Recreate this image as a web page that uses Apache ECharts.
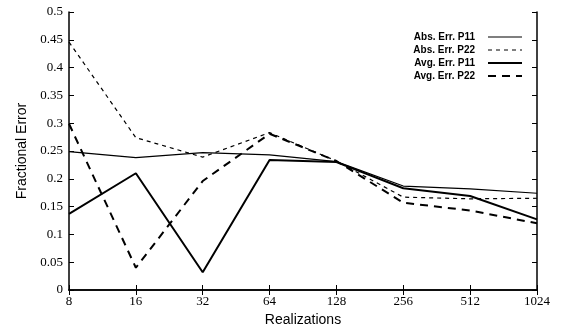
<!DOCTYPE html>
<html>
<head>
<meta charset="utf-8">
<script src="https://cdn.jsdelivr.net/npm/echarts@6/dist/echarts.min.js"></script>
<style>
  html, body { margin: 0; padding: 0; background: #fff; }
  #chart { width: 562px; height: 332px; }
</style>
</head>
<body>
<div id="chart"></div>
<script>
// data
var realizations = ['8', '16', '32', '64', '128', '256', '512', '1024'];
var absErrP11 = [0.249, 0.238, 0.247, 0.243, 0.231, 0.187, 0.182, 0.174];
var absErrP22 = [0.446, 0.274, 0.239, 0.283, 0.232, 0.167, 0.164, 0.165];
var avgErrP11 = [0.137, 0.210, 0.032, 0.234, 0.230, 0.183, 0.169, 0.127];
var avgErrP22 = [0.299, 0.040, 0.196, 0.281, 0.232, 0.157, 0.143, 0.120];

var chart = echarts.init(document.getElementById('chart'));

var serif = "'Liberation Serif', 'DejaVu Serif', serif";
var sans = "'Liberation Sans', Arial, sans-serif";

var styles = {
  'Abs. Err. P11': { width: 1.2, type: 'solid' },
  'Abs. Err. P22': { width: 1.2, type: [4, 4] },
  'Avg. Err. P11': { width: 2, type: 'solid' },
  'Avg. Err. P22': { width: 2, type: [8, 6] }
};

function line(name, data) {
  return {
    name: name,
    type: 'line',
    data: data,
    symbol: 'none',
    xAxisIndex: 0,
    yAxisIndex: 0,
    lineStyle: { color: '#000', width: styles[name].width, type: styles[name].type },
    itemStyle: { color: '#000' }
  };
}

chart.setOption({
  animation: false,
  backgroundColor: '#fff',
  grid: { left: 69, right: 25, top: 12, bottom: 37 },
  legend: {
    orient: 'vertical',
    right: 34,
    top: 27,
    align: 'right',
    itemWidth: 34,
    itemHeight: 10,
    itemGap: 3,
    itemStyle: { opacity: 0 },
    textStyle: { fontFamily: sans, fontSize: 10, fontWeight: 'bold', color: '#000', padding: [0, 8, 0, 0] },
    data: Object.keys(styles).map(function (n) {
      return {
        name: n,
        lineStyle: { color: '#000', width: styles[n].width, type: styles[n].type }
      };
    })
  },
  xAxis: [
    {
      type: 'category',
      data: realizations,
      boundaryGap: false,
      name: 'Realizations',
      nameLocation: 'middle',
      nameGap: 23,
      nameTextStyle: { fontFamily: sans, fontSize: 14, color: '#000' },
      axisLine: { lineStyle: { color: '#000', width: 1.5 } },
      axisTick: { inside: true, length: 5, lineStyle: { color: '#000' } },
      axisLabel: { fontFamily: serif, fontSize: 13, color: '#000', margin: 5 },
      splitLine: { show: false }
    },
    {
      type: 'category',
      data: realizations,
      boundaryGap: false,
      position: 'top',
      axisLine: { lineStyle: { color: '#000', width: 1.5 } },
      axisTick: { inside: true, length: 5, lineStyle: { color: '#000' } },
      axisLabel: { show: false },
      splitLine: { show: false }
    }
  ],
  yAxis: [
    {
      type: 'value',
      min: 0,
      max: 0.5,
      interval: 0.05,
      name: 'Fractional Error',
      nameLocation: 'middle',
      nameGap: 38,
      nameTextStyle: { fontFamily: sans, fontSize: 14, color: '#000' },
      axisLine: { show: true, lineStyle: { color: '#000', width: 1.5 } },
      axisTick: { show: true, inside: true, length: 5, lineStyle: { color: '#000' } },
      axisLabel: { fontFamily: serif, fontSize: 13, color: '#000', margin: 6 },
      splitLine: { show: false }
    },
    {
      type: 'value',
      min: 0,
      max: 0.5,
      interval: 0.05,
      position: 'right',
      axisLine: { show: true, lineStyle: { color: '#000', width: 1.5 } },
      axisTick: { show: true, inside: true, length: 5, lineStyle: { color: '#000' } },
      axisLabel: { show: false },
      splitLine: { show: false }
    }
  ],
  series: [
    line('Abs. Err. P11', absErrP11),
    line('Abs. Err. P22', absErrP22),
    line('Avg. Err. P11', avgErrP11),
    line('Avg. Err. P22', avgErrP22)
  ]
});
</script>
</body>
</html>
